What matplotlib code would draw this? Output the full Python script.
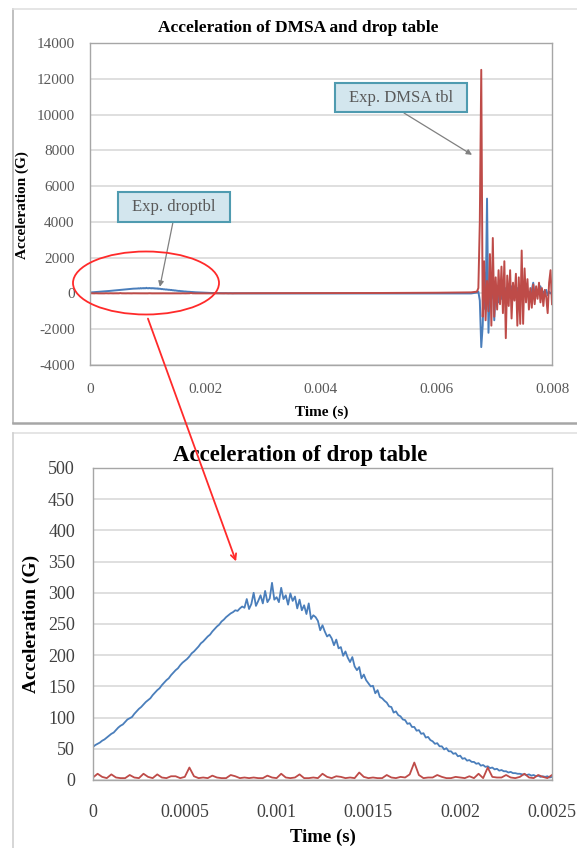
#!/usr/bin/env python3
"""
Plot drop table / DMSA acceleration (overview + zoom on the drop table pulse)
"""

import numpy as np
import matplotlib.pyplot as plt
from matplotlib.patches import Rectangle, Ellipse, FancyArrowPatch
from matplotlib.lines import Line2D

# --- data -------------------------------------------------------------------

# drop table acceleration (G), sampled every 12.5 us from t = 0 to 0.0025 s
drop_step = 0.0000125
drop_tbl = [
    53, 56, 58, 60, 63, 65, 68, 71, 74, 76,
    80, 84, 87, 89, 93, 97, 99, 101, 106, 110,
    114, 117, 121, 125, 128, 131, 136, 140, 144, 147,
    152, 156, 160, 163, 168, 172, 176, 179, 184, 188,
    191, 194, 198, 203, 206, 210, 214, 219, 222, 226,
    230, 233, 238, 242, 246, 249, 254, 257, 261, 264,
    267, 269, 272, 271, 275, 278, 276, 290, 274, 282,
    300, 279, 287, 296, 283, 303, 285, 291, 316, 289,
    293, 285, 308, 290, 296, 281, 299, 287, 294, 275,
    289, 272, 280, 266, 283, 258, 264, 261, 255, 240,
    248, 238, 230, 233, 227, 216, 225, 211, 213, 199,
    206, 196, 189, 197, 182, 176, 181, 163, 169, 160,
    155, 150, 151, 139, 144, 133, 131, 127, 124, 118,
    117, 108, 110, 104, 102, 97, 96, 90, 91, 85,
    85, 79, 80, 74, 75, 68, 69, 64, 62, 58,
    59, 54, 54, 49, 51, 46, 46, 42, 43, 38,
    39, 34, 35, 31, 32, 29, 29, 26, 27, 23,
    24, 21, 22, 19, 20, 17, 18, 15, 16, 14,
    14, 12, 13, 11, 11, 10, 10, 9, 9, 8,
    9, 7, 8, 6, 7, 5, 6, 5, 6, 4,
    5,
]

# DMSA acceleration (G) in the same window, sampled every 25 us
dmsa_step = 0.000025
dmsa_low = [
    4, 10, 5, 3, 9, 4, 3, 3, 8, 4,
    3, 10, 5, 3, 9, 4, 3, 6, 6, 3,
    5, 20, 6, 3, 4, 3, 7, 4, 3, 3,
    8, 6, 3, 4, 3, 4, 3, 3, 7, 4,
    3, 10, 4, 3, 4, 9, 3, 3, 4, 3,
    10, 5, 3, 6, 5, 3, 4, 3, 12, 5,
    3, 4, 3, 3, 8, 4, 3, 5, 4, 9,
    28, 8, 3, 4, 4, 8, 5, 3, 3, 5,
    4, 3, 6, 3, 10, 3, 20, 5, 4, 4,
    8, 4, 3, 5, 10, 4, 3, 8, 5, 3,
    8,
]

# quiet phase between the drop table pulse and the impact
quiet_t = [0.003, 0.004, 0.005, 0.006, 0.0066]
quiet_drop = [0, 0, 0, 0, 0]
quiet_dmsa = [15, 20, 25, 40, 60]

# impact phase, sampled every 25 us starting at 0.0067 s
impact_t0 = 0.0067
impact_step = 0.000025
impact_drop = [
    50, 100, -400, -3000, -1800, 1200, -900, 5300, -2200, 500,
    -300, 800, -1500, 300, 400, -500, 200, -300, 600, -200,
    300, -400, 200, -100, 400, -300, 100, -200, 300, -100,
    200, -200, 100, -100, 500, 0, 100, -200, 200, 600,
    -100, 200, 0, 100, 400, -200, 100, 0, 200, -100,
    100, 0, 50,
]
impact_dmsa = [
    100, 300, 4000, 12500, -1300, 1800, -1500, 700, -1000, 2200,
    -1800, 3100, -1300, 900, -900, 1300, -600, 1500, -1100, 1800,
    -2500, 1000, -700, 1300, -1400, 600, -400, 1100, -1800, 900,
    -1700, 2400, -1700, 1400, -500, 800, -900, 300, -800, 500,
    -600, 400, -300, 600, -500, 300, -700, 200, -200, -1100,
    600, 1300, -600,
]

top_xticks = [0, 0.002, 0.004, 0.006, 0.008]
top_xlabels = ['0', '0.002', '0.004', '0.006', '0.008']
top_yticks = [-4000, -2000, 0, 2000, 4000, 6000, 8000, 10000, 12000, 14000]
bot_xticks = [0, 0.0005, 0.001, 0.0015, 0.002, 0.0025]
bot_xlabels = ['0', '0.0005', '0.001', '0.0015', '0.002', '0.0025']
bot_yticks = [0, 50, 100, 150, 200, 250, 300, 350, 400, 450, 500]

BLUE = '#4a7ebb'
RED = '#be4b48'
GRID = '#d9d9d9'

W, H = 577, 848


def fx(x):
    return x / W


def fy(y):
    return 1 - y / H


def style_axes(ax, size, xpad, ypad, color):
    ax.grid(True, axis='y', color=GRID, linewidth=1.2)
    ax.set_axisbelow(True)
    for sp in ax.spines.values():
        sp.set_color('#a6a6a6')
        sp.set_linewidth(1.0)
    ax.tick_params(axis='both', length=0, labelsize=size, colors=color)
    ax.tick_params(axis='x', pad=xpad)
    ax.tick_params(axis='y', pad=ypad)


plt.rcParams['font.family'] = ['Liberation Serif', 'DejaVu Serif']
plt.rcParams['axes.unicode_minus'] = False
fig = plt.figure(figsize=(W / 100, H / 100), dpi=100)

# time bases
t_drop = np.arange(len(drop_tbl)) * drop_step
t_dmsa = np.arange(len(dmsa_low)) * dmsa_step
t_impact = impact_t0 + np.arange(len(impact_dmsa)) * impact_step

# ---- top chart: whole event ----
ax1 = fig.add_axes([fx(90), fy(365), (552 - 90) / W, (365 - 43) / H])
t_blue = np.concatenate([t_drop, quiet_t, t_impact])
v_blue = np.concatenate([drop_tbl, quiet_drop, impact_drop])
t_red = np.concatenate([t_dmsa, quiet_t, t_impact])
v_red = np.concatenate([dmsa_low, quiet_dmsa, impact_dmsa])
ax1.plot(t_blue, v_blue, color=BLUE, linewidth=1.4)
ax1.plot(t_red, v_red, color=RED, linewidth=1.4)
ax1.set_xlim(0, 0.008)
ax1.set_ylim(-4000, 14000)
ax1.set_xticks(top_xticks)
ax1.set_xticklabels(top_xlabels)
ax1.set_yticks(top_yticks)
style_axes(ax1, 11, 13, 11, '#595959')

fig.text(fx(298), fy(28), 'Acceleration of DMSA and drop table', ha='center',
         va='center', fontsize=12.5, fontweight='bold')
fig.text(fx(322), fy(412), 'Time (s)', ha='center', va='center',
         fontsize=11, fontweight='bold')
fig.text(fx(22), fy(205), 'Acceleration (G)', ha='center', va='center',
         rotation=90, fontsize=11, fontweight='bold')

# ---- bottom chart: drop table pulse ----
ax2 = fig.add_axes([fx(93), fy(780), (552 - 93) / W, (780 - 468) / H])
ax2.plot(t_drop, drop_tbl, color=BLUE, linewidth=1.3)
ax2.plot(t_dmsa, dmsa_low, color=RED, linewidth=1.3)
ax2.set_xlim(0, 0.0025)
ax2.set_ylim(0, 500)
ax2.set_xticks(bot_xticks)
ax2.set_xticklabels(bot_xlabels)
ax2.set_yticks(bot_yticks)
style_axes(ax2, 13, 17, 13, '#404040')

fig.text(fx(300), fy(455), 'Acceleration of drop table', ha='center',
         va='center', fontsize=16.5, fontweight='bold')
fig.text(fx(323), fy(837), 'Time (s)', ha='center', va='center',
         fontsize=13.5, fontweight='bold')
fig.text(fx(31), fy(624), 'Acceleration (G)', ha='center', va='center',
         rotation=90, fontsize=14, fontweight='bold')

# ---- chart frames ----
frame = [
    ((13, 13), (9, 423), '#b5b5b5', 1.2),
    ((13, 577), (9, 9), '#e0e0e0', 1.2),
    ((13, 577), (423, 423), '#a6a6a6', 1.8),
    ((13, 577), (433, 433), '#e0e0e0', 1.2),
    ((13, 13), (433, 848), '#d0d0d0', 1.2),
]
for xs, ys, c, lw in frame:
    fig.add_artist(Line2D([fx(x) for x in xs], [fy(y) for y in ys],
                          transform=fig.transFigure, color=c, linewidth=lw))

# ---- callouts ----
BOX_FC = '#d3e6ee'
BOX_EC = '#4f9bb0'
fig.add_artist(Rectangle((fx(118), fy(222)), 112 / W, 30 / H,
                         transform=fig.transFigure, fc=BOX_FC, ec=BOX_EC, lw=1.5))
fig.text(fx(174), fy(207), 'Exp. droptbl', ha='center', va='center',
         fontsize=12, color='#595959')
fig.add_artist(Rectangle((fx(335), fy(112)), 132 / W, 29 / H,
                         transform=fig.transFigure, fc=BOX_FC, ec=BOX_EC, lw=1.5))
fig.text(fx(401), fy(97.5), 'Exp. DMSA tbl', ha='center', va='center',
         fontsize=12, color='#595959')

arrow = dict(arrowstyle='-|>', color='#808080', lw=0.9, mutation_scale=8,
             shrinkA=0, shrinkB=0)
ax1.annotate('', xy=(0.00121, 370), xycoords='data',
             xytext=(fx(173), fy(222)), textcoords='figure fraction',
             arrowprops=arrow)
ax1.annotate('', xy=(0.006615, 7750), xycoords='data',
             xytext=(fx(404), fy(113)), textcoords='figure fraction',
             arrowprops=arrow)

# red ellipse around the pulse and pointer to the zoomed chart
fig.add_artist(Ellipse((fx(146), fy(283)), 146 / W, 63 / H,
                       transform=fig.transFigure, fill=False,
                       ec='#ff2a2a', lw=1.3, zorder=10))
fig.add_artist(FancyArrowPatch((fx(147), fy(316)), (fx(237), fy(564)),
                               transform=fig.transFigure, arrowstyle='->',
                               mutation_scale=10, color='#ff2a2a', lw=1.3,
                               zorder=10))

fig.savefig('out.png', dpi=100)
